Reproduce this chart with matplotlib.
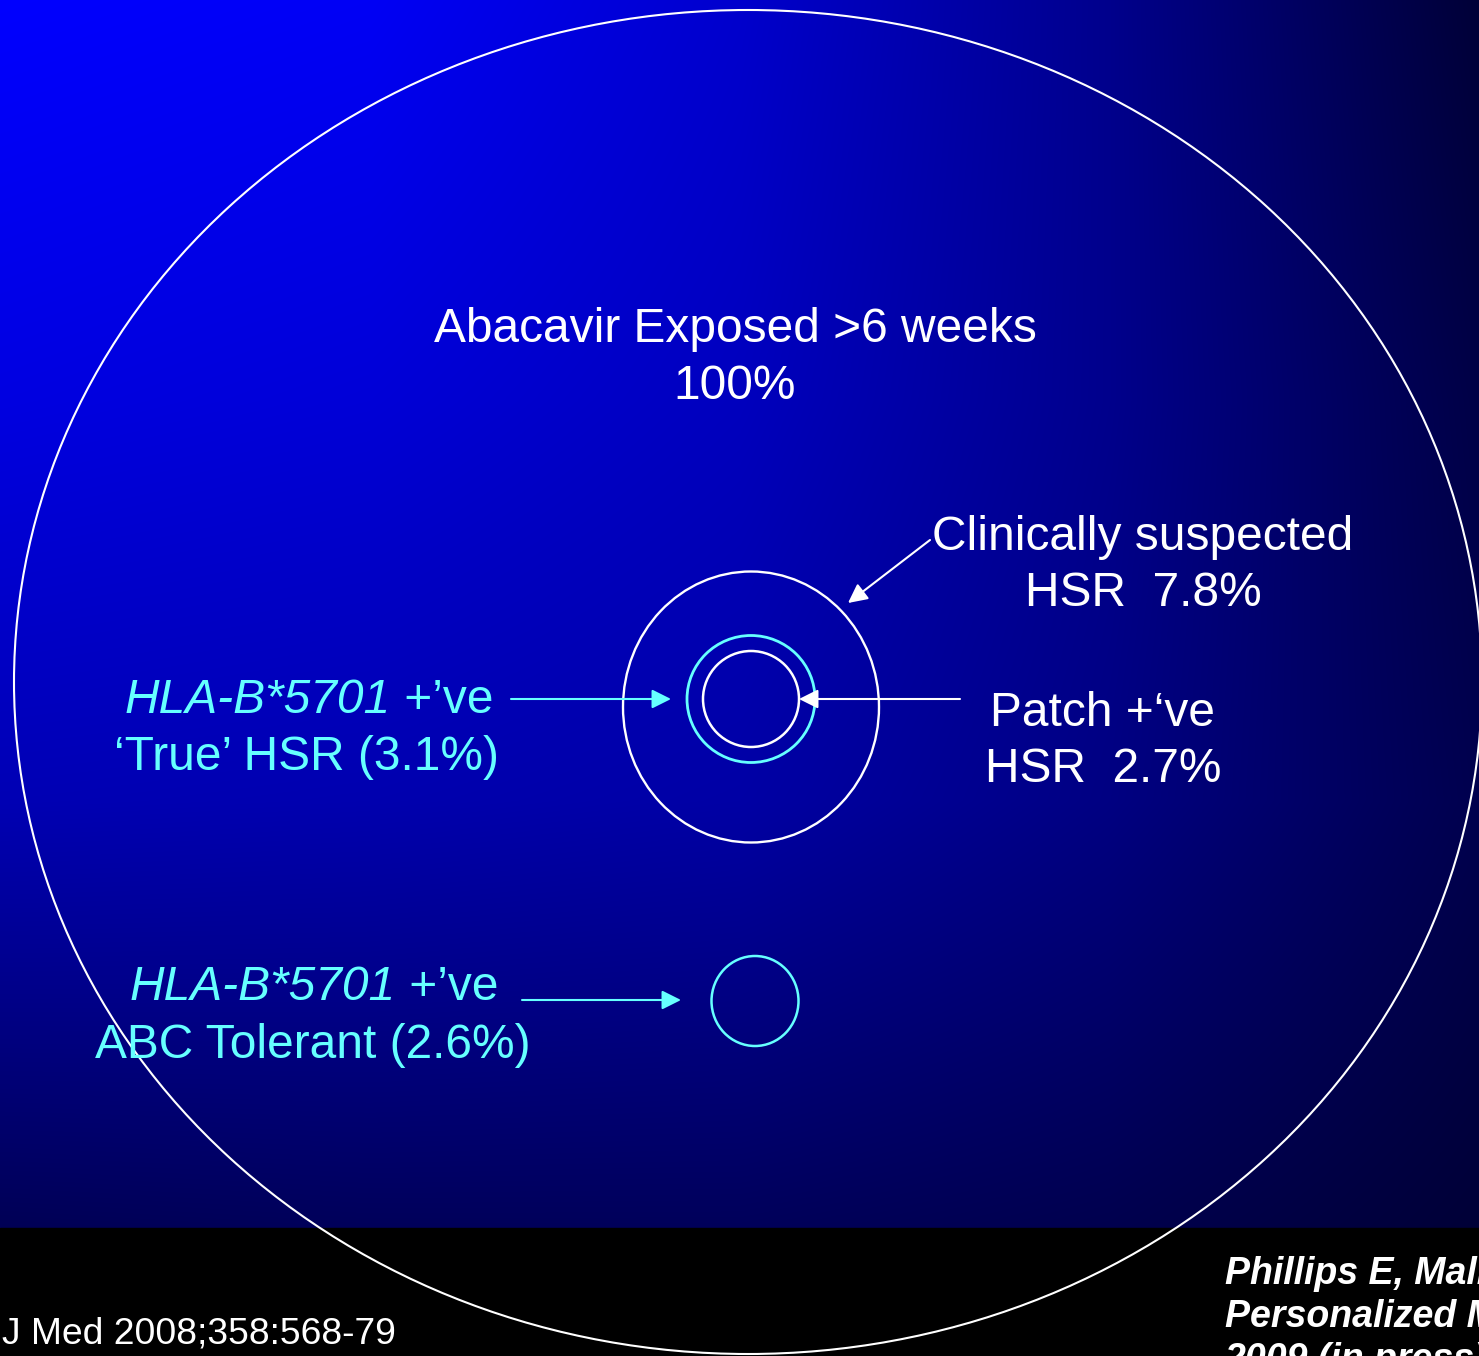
import numpy as np
import matplotlib
matplotlib.use("Agg")
import matplotlib.pyplot as plt
from matplotlib.patches import Ellipse, Rectangle

plt.rcParams['font.family'] = ['Liberation Sans', 'DejaVu Sans']

# ===============================
# Data
# ===============================
groups = ["Abacavir Exposed >6 weeks", "Clinically suspected", "Patch +\u2018ve",
          "\u2018True\u2019 HSR", "ABC Tolerant"]
percents = [100, 7.8, 2.7, 3.1, 2.6]
allele = "HLA-B*5701"
ref_left = "J Med 2008;358:568-79"
ref_right = ["Phillips E, Mallal S", "Personalized Medicine", "2009 (in press)"]

W, H = 1479, 1356
band_top = 1228
white = "white"
cyan = "#66FFFF"

# background gradient control values (blue channel)
gx = [0, 370, 740, 1110, 1479]
gy = [0, 400, 800, 1228]
gblue = [[255, 245, 205, 140, 55],
         [225, 215, 190, 140, 70],
         [180, 175, 165, 130, 78],
         [85, 90, 90, 78, 55]]

fig = plt.figure(figsize=(W / 100, H / 100), dpi=100)
fig.patch.set_facecolor("black")
ax = fig.add_axes([0, 0, 1, 1])
ax.set_xlim(0, W)
ax.set_ylim(H, 0)
ax.axis("off")

# ===============================
# Background
# ===============================
xs = np.arange(W)
ys = np.arange(band_top)
rows = np.array([np.interp(xs, gx, r) for r in gblue])
grid = np.array([np.interp(ys, gy, rows[:, i]) for i in range(W)]).T
img = np.zeros((band_top, W, 3))
img[:, :, 2] = grid / 255.0
ax.imshow(img, extent=(0, W, band_top, 0), aspect="auto", zorder=0)
ax.add_patch(Rectangle((0, band_top), W, H - band_top, color="black", zorder=1))

# ===============================
# Circles
# ===============================
ax.add_patch(Ellipse((748, 682), 1468, 1344, fill=False, ec=white, lw=1.5, zorder=3))
ax.add_patch(Ellipse((751, 707), 256, 271, fill=False, ec=white, lw=1.7, zorder=3))
ax.add_patch(Ellipse((751, 699), 128, 127, fill=False, ec=cyan, lw=2.0, zorder=3))
ax.add_patch(Ellipse((751, 699), 96, 96, fill=False, ec=white, lw=1.8, zorder=3))
ax.add_patch(Ellipse((755, 1001), 87, 90, fill=False, ec=cyan, lw=1.8, zorder=3))

# ===============================
# Arrows
# ===============================
def arrow(x0, y0, x1, y1, col):
    ax.annotate("", xy=(x1, y1), xytext=(x0, y0),
                arrowprops=dict(arrowstyle="-|>", color=col, lw=1.5,
                                mutation_scale=29, shrinkA=0, shrinkB=0),
                zorder=4)

arrow(930, 540, 848, 603, white)
arrow(511, 699, 671, 699, cyan)
arrow(960, 699, 799, 699, white)
arrow(522, 1000, 681, 1000, cyan)

# ===============================
# Text
# ===============================
fs = 34.5

def line(xc, y, s, col, **kw):
    ax.text(xc, y, s, color=col, fontsize=fs, ha="center", va="baseline", zorder=5, **kw)

def mixed_line(xc, y, parts, col):
    r = fig.canvas.get_renderer()
    texts = [ax.text(0, y, s, fontstyle=st, color=col, fontsize=fs,
                     ha="left", va="baseline", zorder=5) for s, st in parts]
    widths = [t.get_window_extent(r).width for t in texts]
    x = xc - sum(widths) / 2
    for t, w in zip(texts, widths):
        t.set_x(x)
        x += w

line(735, 342, groups[0], white)
line(735, 399, f"{percents[0]}%", white)

line(1143, 550, groups[1], white)
line(1143, 606, f"HSR  {percents[1]}%", white)

line(1103, 726, groups[2], white)
line(1103, 782, f"HSR  {percents[2]}%", white)

mixed_line(309, 713, [(allele, "italic"), (" +\u2019ve", "normal")], cyan)
line(307, 770, f"{groups[3]} ({percents[3]}%)", cyan)

mixed_line(314, 1000, [(allele, "italic"), (" +\u2019ve", "normal")], cyan)
line(313, 1058, f"{groups[4]} ({percents[4]}%)", cyan)

# references in bottom band
ax.text(2, 1343, ref_left, color=white, fontsize=26.8, ha="left", va="baseline", zorder=5)
for i, s in enumerate(ref_right):
    ax.text(1225, 1284 + 43 * i, s, color=white, fontsize=27, fontweight="bold",
            fontstyle="italic", ha="left", va="baseline", zorder=5)

fig.savefig("out.png", dpi=100, facecolor="black")
